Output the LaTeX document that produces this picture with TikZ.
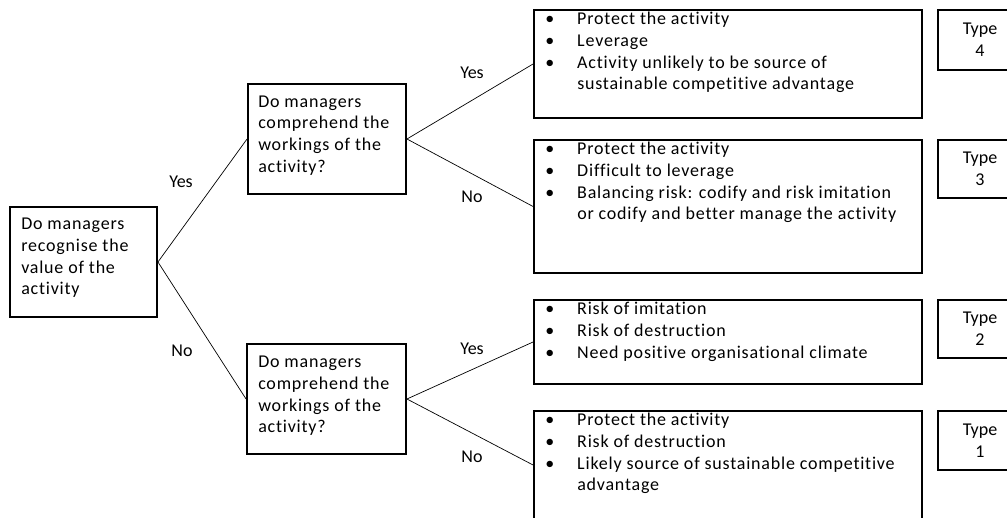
\documentclass[tikz,border=0pt]{standalone}
\usepackage{fontspec}
\setmainfont{Carlito}[Ligatures=NoCommon]
\newfontfamily\widefont{Carlito}[LetterSpace=4.4, Ligatures=NoCommon]
\usetikzlibrary{positioning}

\newcommand{\bul}{\makebox[32pt][l]{\textbullet}}
\newcommand{\cnt}{\hspace*{32pt}}

\begin{document}
\begin{tikzpicture}[
  x=1pt, y=-1pt,
  font=\fontsize{18}{21.7}\selectfont,
  qbox/.style={rectangle, draw, line width=1.9pt, minimum height=110pt, inner sep=0pt},
  outbox/.style={rectangle, draw, line width=1.9pt, minimum width=388pt, inner sep=0pt},
  boxtext/.style={align=left, inner sep=0pt, anchor=north west, font=\widefont\fontsize{18}{21.7}\selectfont},
  typebox/.style={rectangle, draw, line width=1.9pt, minimum width=84pt, align=center, inner sep=0pt},
  branch/.style={draw, line width=0.7pt},
  lbl/.style={inner sep=0pt}
]
  \useasboundingbox (0,0) rectangle (1007,518);
  \clip (0,0) rectangle (1007,518);

  % questions
  \node[qbox, minimum width=147pt] (root) at (83.5,262) {};
  \node[qbox, minimum width=158pt] (q1) at (327,139) {};
  \node[qbox, minimum width=159pt] (q2) at (326.5,399) {};

  \node[boxtext] (roott) at ([xshift=12pt,yshift=-12pt]root.north west) {Do managers\\recognise the\\value of the\\activity};
  \node[boxtext] (q1t) at ([xshift=11pt,yshift=-12.5pt]q1.north west) {Do managers\\comprehend the\\workings of the\\activity?};
  \node[boxtext] (q2t) at ([xshift=12pt,yshift=-13pt]q2.north west) {Do managers\\comprehend the\\workings of the\\activity?};

  % outcomes
  \node[outbox, minimum height=108pt] (o4) at (728,64) {};
  \node[outbox, minimum height=133pt] (o3) at (728,206.5) {};
  \node[outbox, minimum height=84pt] (o2) at (728,342) {};
  \node[outbox, minimum height=108pt] (o1) at (728,465) {};

  \node[boxtext] (o4t) at ([xshift=12pt,yshift=-3pt]o4.north west) {\bul Protect the activity\\\bul Leverage\\\bul Activity unlikely to be source of\\\cnt sustainable competitive advantage};
  \node[boxtext] (o3t) at ([xshift=12pt,yshift=-3pt]o3.north west) {\bul Protect the activity\\\bul Difficult to leverage\\\bul Balancing risk: codify and risk imitation\\\cnt or codify and better manage the activity};
  \node[boxtext] (o2t) at ([xshift=12pt,yshift=-3pt]o2.north west) {\bul Risk of imitation\\\bul Risk of destruction\\\bul Need positive organisational climate};
  \node[boxtext] (o1t) at ([xshift=12pt,yshift=-3pt]o1.north west) {\bul Protect the activity\\\bul Risk of destruction\\\bul Likely source of sustainable competitive\\\cnt advantage};

  % types
  \node[typebox, minimum height=60pt] (t4) at (980,40) {Type\\4};
  \node[typebox, minimum height=58pt] (t3) at (980,169) {Type\\3};
  \node[typebox, minimum height=58pt] (t2) at (980,329) {Type\\2};
  \node[typebox, minimum height=59pt] (t1) at (980,440.5) {Type\\1};

  % branches
  \draw[branch] (root.east) -- (q1.west);
  \draw[branch] (root.east) -- (q2.west);
  \draw[branch] (q1.east) -- (o4.west);
  \draw[branch] (q1.east) -- (o3.west);
  \draw[branch] (q2.east) -- (o2.west);
  \draw[branch] (q2.east) -- (o1.west);

  \node[lbl] (yes0) at (181,182) {Yes};
  \node[lbl] (no0) at (182,351) {No};
  \node[lbl] (yes1) at (472,73) {Yes};
  \node[lbl] (no1) at (472,197) {No};
  \node[lbl] (yes2) at (472,349) {Yes};
  \node[lbl] (no2) at (472,457) {No};
\end{tikzpicture}
\end{document}
